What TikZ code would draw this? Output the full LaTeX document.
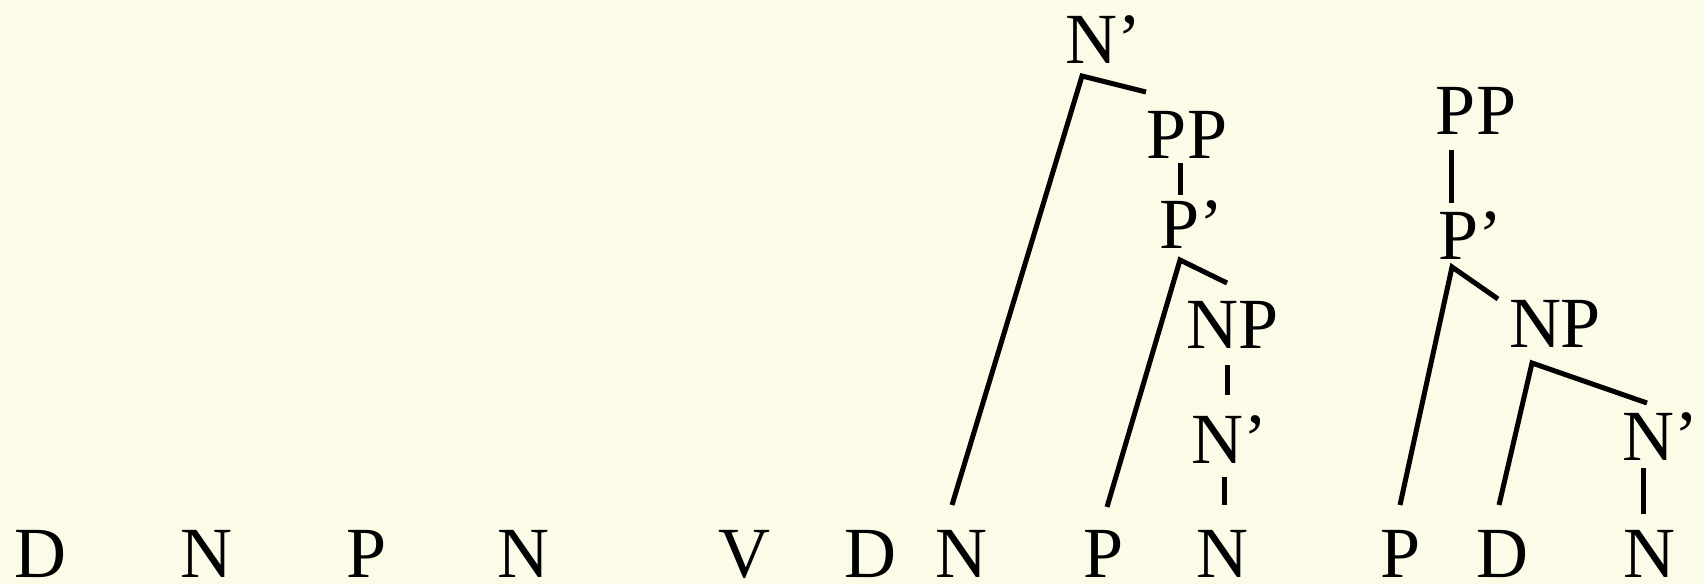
\documentclass[tikz,border=0pt]{standalone}
\usepackage{fontspec}
\setmainfont{Liberation Serif}
\usepackage{tikz}
\usetikzlibrary{positioning}
\definecolor{paper}{RGB}{251,251,232}
\tikzset{
  cat/.style={font=\fontsize{72}{86}\selectfont, inner sep=0pt, anchor=base},
  branch/.style={line width=5pt, black},
  backdrop/.style={fill=paper, draw=none}
}

\begin{document}
\begin{tikzpicture}[x=1pt, y=-1pt]
  \fill[backdrop] (0,0) rectangle (1704,584);
  \useasboundingbox (0,0) rectangle (1704,584);
  % words
  \node[cat] (d1) at (40,577) {D};
  \node[cat] (n1) at (206,577) {N};
  \node[cat] (p1) at (367,577) {P};
  \node[cat] (n2) at (523,577) {N};
  \node[cat] (v1) at (744,577) {V};
  \node[cat] (d2) at (870,577) {D};
  \node[cat] (n3) at (961,577) {N};
  \node[cat] (p2) at (1104,577) {P};
  \node[cat] (n4) at (1222,577) {N};
  \node[cat] (p3) at (1401,577) {P};
  \node[cat] (d3) at (1502,577) {D};
  \node[cat] (n5) at (1649,577) {N};
  % first tree
  \node[cat] (nbarA) at (1103,63) {N'};
  \node[cat] (ppA) at (1187,158) {PP};
  \node[cat] (pbarA) at (1191,248) {P'};
  \node[cat] (npA) at (1233,348) {NP};
  \node[cat] (nbarB) at (1229,463) {N'};
  % second tree
  \node[cat] (ppB) at (1476,134) {PP};
  \node[cat] (pbarB) at (1470,259) {P'};
  \node[cat] (npB) at (1555,347) {NP};
  \node[cat] (nbarC) at (1660,460) {N'};
  % branch ends
  \coordinate (nbarA-b) at (1082,76);
  \coordinate (ppA-t) at (1146,92);
  \coordinate (n3-t) at (952,505);
  \coordinate (ppA-b) at (1180,163);
  \coordinate (pbarA-t) at (1180,195);
  \coordinate (pbarA-b) at (1180,260);
  \coordinate (npA-t) at (1227,283);
  \coordinate (p2-t) at (1107,507);
  \coordinate (npA-b) at (1227,365);
  \coordinate (nbarB-t) at (1227,395);
  \coordinate (nbarB-b) at (1224,477);
  \coordinate (n4-t) at (1224,505);
  \coordinate (ppB-b) at (1451,150);
  \coordinate (pbarB-t) at (1451,203);
  \coordinate (pbarB-b) at (1452,267);
  \coordinate (npB-t) at (1498,299);
  \coordinate (p3-t) at (1400,505);
  \coordinate (npB-b) at (1532,363);
  \coordinate (nbarC-t) at (1647,403);
  \coordinate (d3-t) at (1499,505);
  \coordinate (nbarC-b) at (1643,468);
  \coordinate (n5-t) at (1643,514);
  % branches
  \draw[branch] (n3-t) -- (nbarA-b) -- (ppA-t);
  \draw[branch] (ppA-b) -- (pbarA-t);
  \draw[branch] (p2-t) -- (pbarA-b) -- (npA-t);
  \draw[branch] (npA-b) -- (nbarB-t);
  \draw[branch] (nbarB-b) -- (n4-t);
  \draw[branch] (ppB-b) -- (pbarB-t);
  \draw[branch] (p3-t) -- (pbarB-b) -- (npB-t);
  \draw[branch] (d3-t) -- (npB-b) -- (nbarC-t);
  \draw[branch] (nbarC-b) -- (n5-t);
\end{tikzpicture}
\end{document}
